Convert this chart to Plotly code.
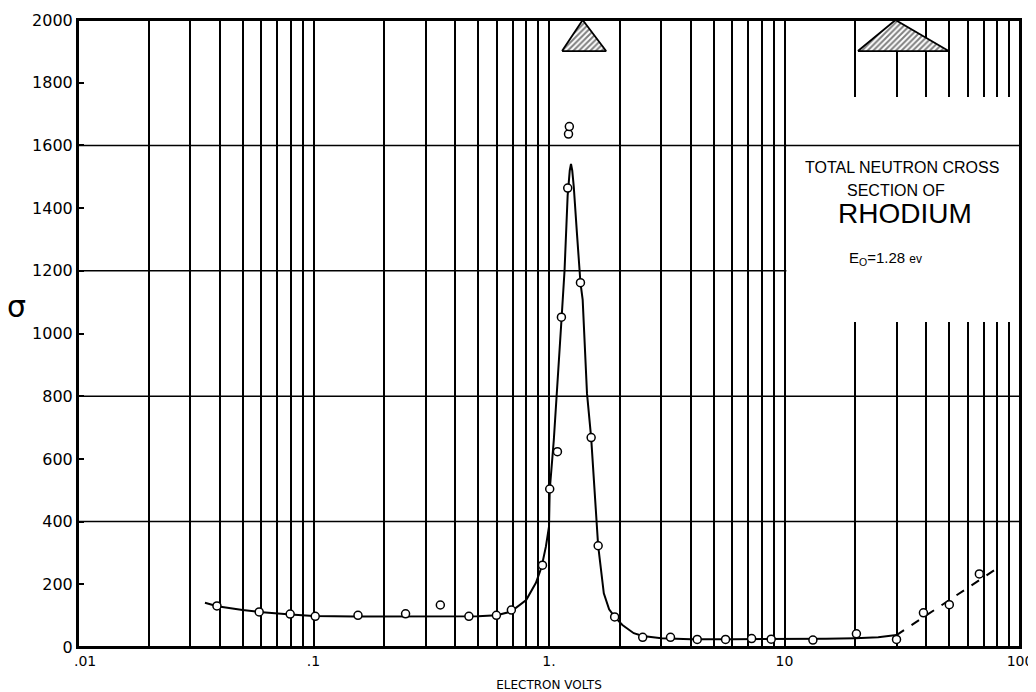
import numpy as np
import plotly.graph_objects as go

# ---------------- data ----------------
# measured points (energy in eV, total cross section in barns)
pt_energy = [0.0389, 0.0588, 0.0796, 0.1017, 0.1545, 0.246, 0.3456, 0.457, 0.598, 0.692,
             0.938, 1.007, 1.086, 1.129, 1.201, 1.21, 1.22, 1.36, 1.51, 1.617, 1.90,
             2.50, 3.28, 4.26, 5.62, 7.25, 8.78, 13.2, 20.2, 29.9, 38.9, 50.1, 67.2]
pt_sigma = [131, 112, 105, 98, 101, 106, 134, 98, 101, 118,
            261, 504, 623, 1052, 1464, 1636, 1660, 1162, 668, 323, 96,
            31, 31, 24, 24, 27, 25, 22, 42, 24, 109, 135, 233]

# fitted solid curve
curve_energy = [0.0346, 0.039, 0.05, 0.0588, 0.08, 0.1, 0.15, 0.25, 0.4, 0.5, 0.6, 0.69,
                0.8, 0.88, 0.93, 0.97, 1.0, 1.007, 1.048, 1.088, 1.129, 1.164, 1.20, 1.225,
                1.24, 1.255, 1.274, 1.314, 1.36, 1.39, 1.45, 1.51, 1.574, 1.617, 1.709,
                1.80, 1.90, 2.05, 2.29, 2.5, 3.0, 4.0, 6.0, 10.0, 15.0, 20.0, 25.0, 29.9]
curve_sigma = [141, 130, 118, 112, 104, 99, 97, 97, 97, 98, 101, 113,
               150, 205, 255, 320, 384, 500, 660, 840, 1040, 1200, 1440, 1520,
               1541, 1520, 1468, 1320, 1162, 1107, 809, 668, 447, 323, 171,
               120, 96, 70, 44, 35, 28, 25, 25, 25, 26, 28, 31, 38]

# dashed extension
dash_energy = [29.9, 80.0]
dash_sigma = [38, 251]

# resolution triangles (hatched)
tri1_energy = [1.136, 1.39, 1.748, 1.136]
tri1_sigma = [1901, 2000, 1901, 1901]
tri2_energy = [20.5, 29.6, 49.8, 20.5]
tri2_sigma = [1901, 2000, 1901, 1901]

# axis ticks
x_grid_vals = [m * 10.0 ** e for e in range(-2, 2) for m in range(1, 10)] + [100.0]
x_decade_labels = {0.1: ".1", 1.0: "1.", 10.0: "10", 100.0: "100"}
x_first_label = ".01"   # drawn slightly right of its tick, clear of the y-axis "0"
y_tick_vals = list(range(0, 2001, 200))
y_grid_vals = [400, 800, 1200, 1600]

# ---------------- figure ----------------
FONT = "DejaVu Sans"
fig = go.Figure()

for tx, ty in [(tri1_energy, tri1_sigma), (tri2_energy, tri2_sigma)]:
    fig.add_trace(go.Scatter(
        x=tx, y=ty, mode="lines", fill="toself", fillcolor="white",
        fillpattern=dict(shape="/", fgcolor="black", bgcolor="white", size=4, solidity=0.5),
        line=dict(color="black", width=1.8), hoverinfo="skip", showlegend=False))

fig.add_trace(go.Scatter(x=curve_energy, y=curve_sigma, mode="lines",
                         line=dict(color="black", width=2), showlegend=False))
fig.add_trace(go.Scatter(x=dash_energy, y=dash_sigma, mode="lines",
                         line=dict(color="black", width=2, dash="dash"), showlegend=False))
fig.add_trace(go.Scatter(x=pt_energy, y=pt_sigma, mode="markers",
                         marker=dict(symbol="circle", size=8, color="white",
                                     line=dict(color="black", width=1.5)),
                         showlegend=False))

ticktext = [x_decade_labels.get(round(v, 6), "") for v in x_grid_vals]

fig.update_xaxes(type="log", range=[-2, 2], tickvals=x_grid_vals, ticktext=ticktext,
                 showgrid=True, gridcolor="black", gridwidth=1.5, automargin=False,
                 tickangle=0,
                 showline=True, linecolor="black", linewidth=2, mirror=True,
                 ticks="", tickfont=dict(family=FONT, size=14, color="black"),
                 title=dict(text="ELECTRON VOLTS", standoff=14,
                            font=dict(family=FONT, size=12, color="black")),
                 zeroline=False)
fig.update_yaxes(range=[0, 2000], tickvals=y_tick_vals, automargin=False,
                 showgrid=False, showline=True, linecolor="black", linewidth=2, mirror=True,
                 ticks="inside", ticklen=6, tickwidth=1.5, tickcolor="black",
                 tickfont=dict(family=FONT, size=16, color="black"), zeroline=False)

shapes = []
for gv in y_grid_vals:
    shapes.append(dict(type="line", xref="paper", x0=0, x1=1, yref="y", y0=gv, y1=gv,
                       line=dict(color="black", width=1.5), layer="below"))
# white label box masking the grid (10–100 eV)
shapes.append(dict(type="rect", xref="paper", x0=0.752, x1=1.0, yref="y", y0=1037, y1=1754,
                   fillcolor="white", line=dict(width=0), layer="above"))
shapes.append(dict(type="line", xref="paper", x0=0.75, x1=1, yref="y", y0=1600, y1=1600,
                   line=dict(color="black", width=1.5), layer="above"))
shapes.append(dict(type="rect", xref="paper", x0=0, x1=1, yref="paper", y0=0, y1=1,
                   line=dict(color="black", width=2), layer="above"))

common = dict(xref="paper", yref="paper", showarrow=False, xanchor="center", yanchor="middle")
annotations = [
    dict(text=x_first_label, x=0.0074, y=-0.0223,
         font=dict(family=FONT, size=14, color="black"), **common),
    dict(text="σ", x=-0.065, y=0.5423, font=dict(family=FONT, size=30, color="black"), **common),
    dict(text="TOTAL NEUTRON CROSS", x=0.8747, y=0.764,
         font=dict(family="Liberation Sans", size=16, color="black"), **common),
    dict(text="SECTION OF", x=0.8684, y=0.7273,
         font=dict(family="Liberation Sans", size=16, color="black"), **common),
    dict(text="RHODIUM", x=0.878, y=0.6906,
         font=dict(family="Liberation Sans", size=28, color="black"), **common),
    dict(text="E<sub>O</sub>=1.28 <span style='font-size:12px'>ev</span>", x=0.8577, y=0.6204,
         font=dict(family="Liberation Sans", size=15, color="black"), **common),
]

# the page body has an 8px default margin, so the figure is 8px smaller and margins shifted
fig.update_layout(width=1028, height=684, margin=dict(l=70, r=16, t=12, b=45),
                  paper_bgcolor="white", plot_bgcolor="white",
                  shapes=shapes, annotations=annotations, showlegend=False)

fig.write_html("out.html")
